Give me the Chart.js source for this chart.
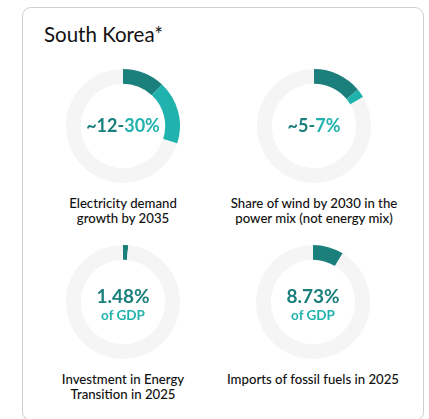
<!DOCTYPE html>
<html>
<head>
<meta charset="utf-8">
<script src="https://cdn.jsdelivr.net/npm/chart.js@4"></script>
<style>
  html, body { margin: 0; padding: 0; background: #fff; }
  body { width: 429px; height: 419px; position: relative; overflow: hidden; font-family: "Lato", sans-serif; color: #111; }
  .card { position: absolute; left: 22px; top: 7px; width: 402px; height: 414px; border: 1px solid #cfcfcf; border-radius: 9px; box-sizing: border-box; }
  .title { position: absolute; left: 44px; top: 22px; font-size: 20.5px; font-weight: 400; }
  canvas { position: absolute; }
  .center { position: absolute; width: 114px; text-align: center; font-weight: 700; }
  .caption { position: absolute; width: 190px; text-align: center; font-size: 13.2px; line-height: 14.5px; font-weight: 500; }
</style>
</head>
<body>
<div class="card"></div>
<div class="title">South Korea*</div>
<div id="charts"></div>
<script>
// values (percent of a full circle)
const darkShares = [12, 14, 1.48, 8.73];
const lightShares = [18, 2.5, 0, 0];
const centerDark = ["~12-", "~5-", "1.48%", "8.73%"];
const centerLight = ["30%", "7%", "of GDP", "of GDP"];
const captions = [
  ["Electricity demand", "growth by 2035"],
  ["Share of wind by 2030 in the", "power mix (not energy mix)"],
  ["Investment in Energy", "Transition in 2025"],
  ["Imports of fossil fuels in 2025"]
];

const darkTeal = "#1b807c";
const lightTeal = "#20b3ad";
const ringGrey = "#f5f5f5";

// donut centres on the page
const centres = [[123, 126], [314, 126], [123, 302], [313, 302]];
const captionTops = [196, 196, 372, 372];
const size = 114;

const holder = document.getElementById("charts");

centres.forEach((c, i) => {
  const canvas = document.createElement("canvas");
  canvas.width = size;
  canvas.height = size;
  canvas.style.left = (c[0] - size / 2) + "px";
  canvas.style.top = (c[1] - size / 2) + "px";
  holder.appendChild(canvas);

  const rest = 100 - darkShares[i] - lightShares[i];
  new Chart(canvas.getContext("2d"), {
    type: "doughnut",
    data: {
      labels: ["low", "high", "rest"],
      datasets: [{
        data: [darkShares[i], lightShares[i], rest],
        backgroundColor: [darkTeal, lightTeal, ringGrey],
        borderWidth: 0
      }]
    },
    options: {
      responsive: false,
      animation: false,
      cutout: "74%",
      layout: { padding: 0 },
      plugins: { legend: { display: false }, tooltip: { enabled: false } }
    }
  });

  // text in the middle of the ring
  const mid = document.createElement("div");
  mid.className = "center";
  mid.style.left = (c[0] - size / 2) + "px";
  if (i < 2) {
    mid.style.top = (c[1] - 12) + "px";
    mid.style.fontSize = "18px";
    mid.innerHTML = '<span style="color:' + darkTeal + '">' + centerDark[i] +
      '</span><span style="color:' + lightTeal + '">' + centerLight[i] + '</span>';
  } else {
    mid.style.top = (c[1] - 17) + "px";
    mid.innerHTML = '<div style="font-size:19px;line-height:22px;color:' + darkTeal + '">' + centerDark[i] +
      '</div><div style="font-size:13.5px;line-height:16px;color:' + lightTeal + '">' + centerLight[i] + '</div>';
  }
  holder.appendChild(mid);

  const cap = document.createElement("div");
  cap.className = "caption";
  cap.style.left = (c[0] - 95) + "px";
  cap.style.top = captionTops[i] + "px";
  cap.innerHTML = captions[i].join("<br>");
  holder.appendChild(cap);
});
</script>
</body>
</html>
